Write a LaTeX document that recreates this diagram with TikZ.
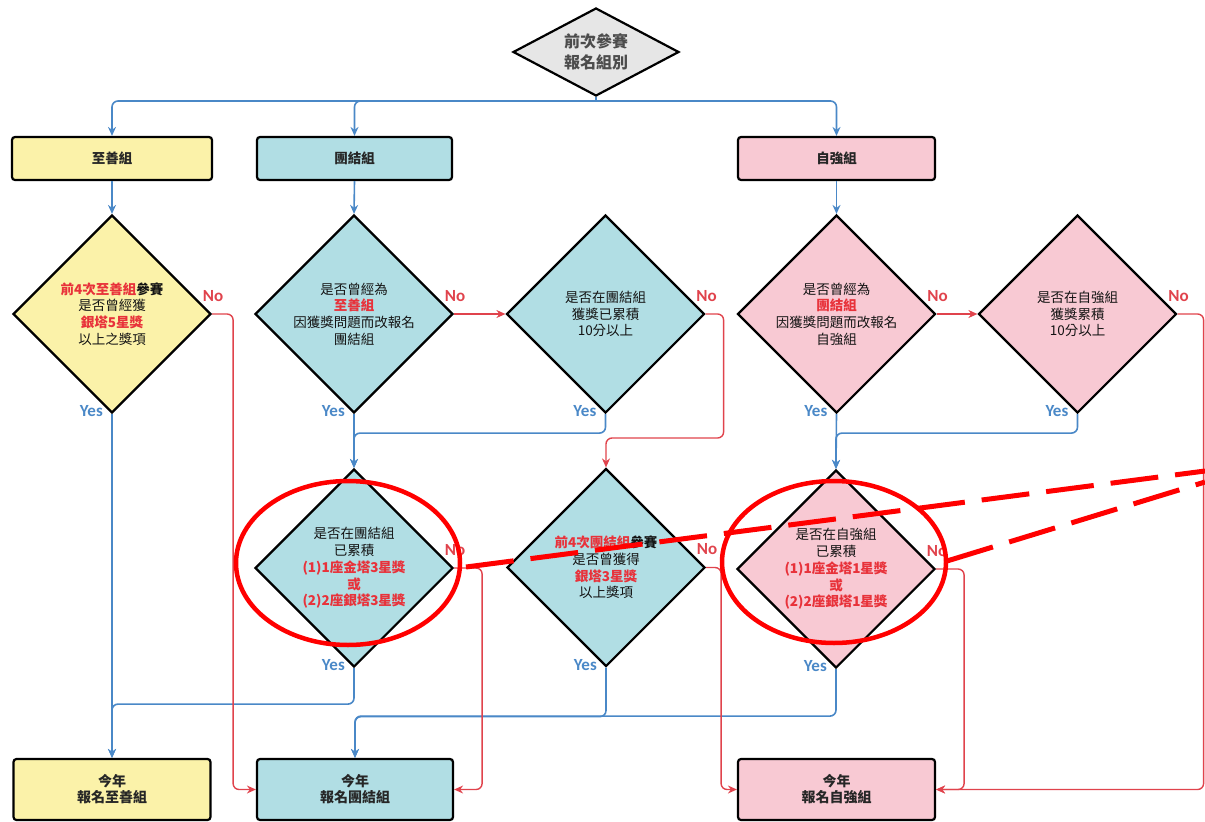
\documentclass[tikz,border=0pt]{standalone}
\usepackage{fontspec}
\setmainfont{Noto Sans CJK TC}
\newfontfamily\latinf{Carlito}
\usetikzlibrary{shapes.geometric,arrows.meta,calc}
\definecolor{fy}{HTML}{FBF2A9}
\definecolor{fb}{HTML}{B1DEE4}
\definecolor{fp}{HTML}{F8C9D3}
\definecolor{fg}{HTML}{E6E6E6}
\definecolor{bl}{HTML}{4A88C7}
\definecolor{rl}{HTML}{E0434C}
\definecolor{rtx}{HTML}{E8323A}
\definecolor{ann}{HTML}{FF0000}
\newcommand{\redt}[1]{{\color{rtx}\bfseries #1}}
\tikzset{
  dia/.style={diamond, draw=black, line width=2.2pt, minimum width=198pt, minimum height=198pt, inner sep=0pt, shape aspect=1},
  dtext/.style={align=center, font=\fontsize{13.5}{16.7}\selectfont, text=black!92},
  box/.style={rectangle, draw=black, line width=2.2pt, rounded corners=3pt, minimum height=43pt, inner sep=0pt, align=center},
  toptext/.style={font=\bfseries\fontsize{13.5}{16}\selectfont, text=black!85},
  bottext/.style={font=\bfseries\fontsize{14}{16}\selectfont, text=black!85},
  yesline/.style={draw=bl, line width=1.6pt, rounded corners=6pt, -{Stealth[length=9pt,width=8pt]}},
  noline/.style={draw=rl, line width=1.4pt, rounded corners=6pt, -{Stealth[length=9pt,width=8pt]}},
  ylab/.style={text=bl, font=\latinf\bfseries\fontsize{17}{17}\selectfont, anchor=east, inner sep=0pt},
  nlab/.style={text=rl, font=\latinf\bfseries\fontsize{17}{17}\selectfont, inner sep=0pt},
  annot/.style={draw=ann, line width=4.5pt},
}
\begin{document}
\begin{tikzpicture}[x=1pt,y=-1pt]
\useasboundingbox (0,0) rectangle (1205,822);

% top decision
\node[diamond, draw=black, line width=2.2pt, fill=fg, minimum width=166pt, minimum height=88pt, inner sep=0pt, shape aspect=1.9,
  label={[align=center, font=\bfseries\fontsize{16}{21}\selectfont, text=black!70]center:{前次參賽\\報名組別}}] (top) at (596,52) {};

% group boxes
\node[box, fill=fy, minimum width=200pt, toptext] (Z1) at (112,158.5) {至善組};
\node[box, fill=fb, minimum width=195pt, toptext] (T1) at (354.5,158.5) {團結組};
\node[box, fill=fp, minimum width=197pt, toptext] (S1) at (836.5,158.5) {自強組};

% row 1 diamonds
\node[dia, fill=fy, label={[dtext]center:{\redt{前4次至善組}\textbf{參賽}\\是否曾經獲\\\redt{銀塔5星獎}\\以上之獎項}}] (D1) at (112,314) {};
\node[dia, fill=fb, label={[dtext]center:{是否曾經為\\\redt{至善組}\\因獲獎問題而改報名\\團結組}}] (D2) at (354,314) {};
\node[dia, fill=fb, label={[dtext]center:{是否在團結組\\獲獎已累積\\10分以上}}] (D3) at (605.5,314) {};
\node[dia, fill=fp, label={[dtext]center:{是否曾經為\\\redt{團結組}\\因獲獎問題而改報名\\自強組}}] (D4) at (836.5,314) {};
\node[dia, fill=fp, label={[dtext]center:{是否在自強組\\獲獎累積\\10分以上}}] (D5) at (1077.5,314) {};

% row 2 diamonds
\node[dia, fill=fb, label={[dtext]center:{是否在團結組\\已累積\\\redt{(1)1座金塔3星獎}\\\redt{或}\\\redt{(2)2座銀塔3星獎}}}] (D6) at (354,568) {};
\node[dia, fill=fb, label={[dtext]center:{\redt{前4次團結組}\textbf{參賽}\\是否曾獲得\\\redt{銀塔3星獎}\\以上獎項}}] (D7) at (606,567.5) {};
\node[dia, fill=fp, label={[dtext]center:{是否在自強組\\已累積\\\redt{(1)1座金塔1星獎}\\\redt{或}\\\redt{(2)2座銀塔1星獎}}}] (D8) at (836,569) {};

% result boxes
\node[box, fill=fy, minimum width=197pt, minimum height=61pt, bottext] (Z2) at (112,789.5) {今年\\報名至善組};
\node[box, fill=fb, minimum width=196pt, minimum height=61pt, bottext] (T2) at (355,789.5) {今年\\報名團結組};
\node[box, fill=fp, minimum width=197pt, minimum height=61pt, bottext] (S2) at (836.5,789.5) {今年\\報名自強組};

% bus from top decision
\coordinate (bus) at (596,101);
\draw[draw=bl, line width=1.6pt] (top.south) -- (bus);
\draw[yesline] (bus) -| (Z1.north);
\draw[yesline] (bus) -| (T1.north);
\draw[yesline] (bus) -| (S1.north);
\draw[yesline] (Z1.south) -- (D1.north);
\draw[yesline] (T1.south) -- (D2.north);
\draw[yesline] (S1.south) -- (D4.north);

% yes connectors
\draw[yesline] (D1.south) -- (Z2.north);
\draw[yesline] (D6.south) -- ++(0,36) -| (Z2.north);
\draw[yesline] (D2.south) -- (D6.north);
\draw[yesline] (D3.south) -- ++(0,19) -| (D6.north);
\draw[yesline] (D4.south) -- (D8.north);
\draw[yesline] (D5.south) -- ++(0,19) -| (D8.north);
\draw[yesline] (D7.south) -- ++(0,49) -| (T2.north);
\draw[yesline] (D8.south) -- ++(0,47) -| (T2.north);

% no connectors
\draw[noline] (D1.east) -- ++(21,0) |- (T2.west);
\draw[noline] (D2.east) -- (D3.west);
\draw[noline] (D3.east) -- ++(18,0) -- ++(0,124) -| (D7.north);
\draw[noline] (D4.east) -- (D5.west);
\draw[noline] (D5.east) -- ++(26,0) |- (S2.east);
\draw[noline] (D6.east) -- ++(28,0) |- (T2.east);
\draw[noline] (D7.east) -- ++(15,0) |- (S2.west);
\draw[noline] (D8.east) -- ++(28,0) |- (S2.east);

% labels
\foreach \d in {D1,D2,D3,D4,D5,D6,D7,D8}{
  \node[ylab] at ($(\d.south)+(-9,-3)$) {Yes};
  \node[nlab] at ($(\d.east)+(1,-18)$) {No};
}

% annotations
\draw[annot] (348,563) ellipse [x radius=112pt, y radius=82pt];
\draw[annot] (834,562) ellipse [x radius=112pt, y radius=81pt];
\draw[annot, line width=5pt, dash pattern=on 48pt off 17pt] (466,567) -- (1205,471);
\draw[annot, line width=5pt, dash pattern=on 48pt off 17pt] (947,561) -- (1205,482);
\end{tikzpicture}
\end{document}
